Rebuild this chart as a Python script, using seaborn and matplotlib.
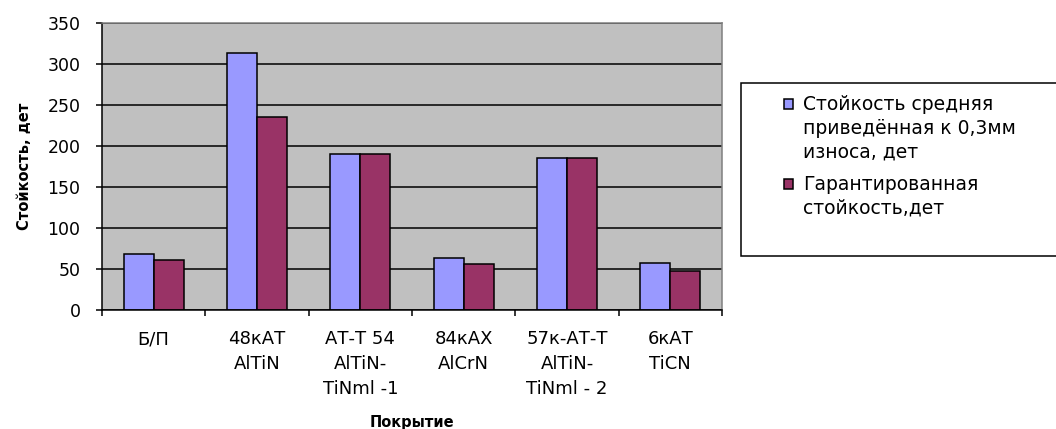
import matplotlib
matplotlib.use("Agg")
import matplotlib.pyplot as plt
from matplotlib.patches import Rectangle
from matplotlib.legend_handler import HandlerPatch
import numpy as np
import pandas as pd
import seaborn as sns

# Coating variants (tick labels are wrapped over several lines)
coatings = [
    "Б/П",
    "48кАТ\nAlTiN",
    "АТ-Т 54\nAlTiN-\nTiNml -1",
    "84кАХ\nAlCrN",
    "57к-АТ-Т\nAlTiN-\nTiNml - 2",
    "6кАТ\nTiCN",
]
mean_life = [68, 313, 190, 63, 185, 57]        # average tool life reduced to 0.3 mm wear
guaranteed_life = [61, 235, 190, 56, 185, 48]  # guaranteed tool life

series_names = [
    "Стойкость средняя приведённая к 0,3мм износа, дет",
    "Гарантированная стойкость,дет",
]
legend_labels = [
    "Стойкость средняя\nприведённая к 0,3мм\nизноса, дет",
    "Гарантированная\nстойкость,дет",
]
colors = ["#9999FF", "#993366"]

df = pd.DataFrame({
    "coating": coatings * 2,
    "value": mean_life + guaranteed_life,
    "series": [series_names[0]] * len(coatings) + [series_names[1]] * len(coatings),
})

sns.set_theme(style="white")
plt.rcParams["font.family"] = ["DejaVu Sans"]

W, H = 1056, 429
fig = plt.figure(figsize=(W / 100, H / 100), dpi=100)
ax = fig.add_axes([102 / W, 1 - 310 / H, (722 - 102) / W, (310 - 23) / H])

sns.barplot(
    data=df, x="coating", y="value", hue="series",
    order=coatings, hue_order=series_names,
    palette=colors, width=0.58, edgecolor="black", linewidth=1.1,
    saturation=1, ax=ax, legend=True,
)

ax.set_facecolor("#C0C0C0")
ax.set_ylim(0, 350)
ax.set_xlim(-0.5, len(coatings) - 0.5)
ax.set_yticks(np.arange(0, 351, 50))
ax.yaxis.grid(True, color="black", linewidth=1.1)
ax.xaxis.grid(False)
ax.set_axisbelow(True)

for side in ("left", "bottom"):
    ax.spines[side].set_color("black")
    ax.spines[side].set_linewidth(1.1)
for side in ("top", "right"):
    ax.spines[side].set_visible(True)
    ax.spines[side].set_color("#808080")
    ax.spines[side].set_linewidth(1.1)

# Category labels on major ticks, boundary tick marks on minor ticks
ax.set_xticks(range(len(coatings)))
ax.set_xticklabels(coatings, fontsize=13, linespacing=1.5, va="top")
ax.set_xticks(np.arange(-0.5, len(coatings), 1.0), minor=True)
ax.tick_params(axis="x", which="major", length=0, pad=14.5)
ax.tick_params(axis="x", which="minor", length=4.5, width=1.1, color="black",
               direction="out", bottom=True)
ax.tick_params(axis="y", which="major", length=4.5, width=1.1, color="black",
               direction="out", left=True, pad=11, labelsize=12.5)
for lbl in ax.get_yticklabels() + ax.get_xticklabels():
    lbl.set_color("black")

ax.set_ylabel("Стойкость, дет", fontsize=10.5, fontweight="bold", color="black")
ax.yaxis.set_label_coords(-0.113, 0.5)
ax.set_xlabel("Покрытие", fontsize=10.5, fontweight="bold", color="black")
ax.xaxis.set_label_coords(0.5, -0.365)


def square_marker(legend, orig_handle, xdescent, ydescent, width, height, fontsize):
    """Small square centred in the handle box."""
    side = 0.5 * fontsize
    x0 = -xdescent + (width - side) / 2
    y0 = -ydescent + (height - side) / 2
    return Rectangle((x0, y0), side, side)


# Legend with a fixed-size framed box
handles, _ = ax.get_legend_handles_labels()
ax.get_legend().remove()
fig.patches.append(Rectangle((741 / W, 1 - 256 / H), (1060 - 741) / W,
                             (256 - 83) / H, transform=fig.transFigure,
                             facecolor="white", edgecolor="black", linewidth=1.1,
                             zorder=0))
leg = fig.legend(handles, legend_labels, loc="upper left",
                 bbox_to_anchor=(784 / W, 1 - 95 / H), frameon=False,
                 fontsize=13.5, handlelength=0.5, handleheight=1.12,
                 handletextpad=0.5, labelspacing=0.7, borderpad=0,
                 borderaxespad=0,
                 handler_map={h: HandlerPatch(patch_func=square_marker) for h in handles})
for t in leg.get_texts():
    t.set_linespacing(1.33)
    t.set_color("black")
# put each marker beside the first line of its label
try:
    for column in leg._legend_handle_box.get_children():
        for row in column.get_children():
            row.align = "top"
except AttributeError:
    pass

fig.savefig("out.png", dpi=100, facecolor="white")
